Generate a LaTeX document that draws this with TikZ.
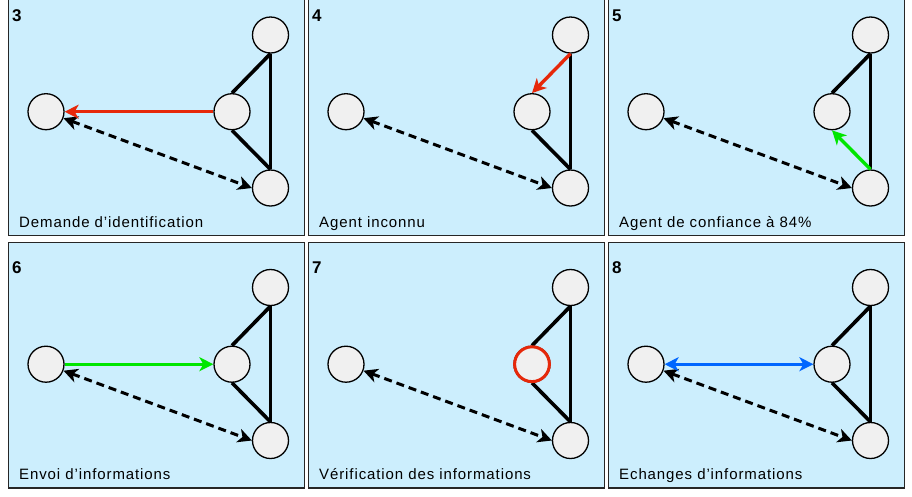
\documentclass[tikz,border=0pt]{standalone}
\usepackage{fontspec}
\setmainfont{Liberation Sans}
\newfontfamily\capfont[LetterSpace=6]{Liberation Sans}
\usetikzlibrary{arrows.meta}

\definecolor{panelblue}{RGB}{204,238,253}
\definecolor{agentgray}{RGB}{240,240,240}
\definecolor{alertred}{RGB}{230,40,10}
\definecolor{okgreen}{RGB}{0,230,0}
\definecolor{infoblue}{RGB}{0,102,255}

\tikzset{
	panel/.style={fill=panelblue,draw=black!85,line width=1.5pt},
	agent/.style={circle,draw=black,fill=agentgray,line width=1.3pt,minimum size=36pt,inner sep=0pt},
	link/.style={line width=3.6pt},
	msg/.style={line width=3.4pt,->},
	probe/.style={line width=3pt,dash pattern=on 8pt off 5pt,<->},
	num/.style={font=\fontsize{17}{20}\selectfont\bfseries,anchor=base west,inner sep=0pt},
	caption/.style={font=\capfont\fontsize{15}{18}\selectfont,anchor=base west,inner sep=0pt}
}

\begin{document}
\begin{tikzpicture}[x=1pt,y=-1pt,>={Stealth[length=14pt,width=14pt,inset=4pt]}]
		\clip (0,0) rectangle (912,496);
		\fill[white] (0,0) rectangle (912,496);

		% one panel per step
		\foreach \n/\x/\y/\txt in {3/8.5/-10/{Demande d’identification},
				4/308.5/-10/{Agent inconnu},
				5/608.5/-10/{Agent de confiance à 84\%},
				6/8.5/242.5/{Envoi d’informations},
				7/308.5/242.5/{Vérification des informations},
				8/608.5/242.5/{Echanges d’informations}} {
				\draw[panel] (\x,\y) rectangle ++(296,245.5);
				\node[num] (num\n) at (\x+3.5,\y+31) {\n};
				\node[caption] (cap\n) at (\x+10.5,\y+237) {\txt};
				\node[agent] (l\n) at (\x+37.5,\y+121.7) {};
				\node[agent] (m\n) at (\x+223.5,\y+121.7) {};
				\node[agent] (t\n) at (\x+262,\y+45) {};
				\node[agent] (b\n) at (\x+262,\y+198) {};
				\draw[probe] (l\n) -- (b\n.west); % dashed exchange
				\draw[link] (t\n.south) -- (b\n.north);
			}

		% Links kept in the triangle
		\foreach \n in {3,5,6,7,8} \draw[link] (t\n.south) -- (m\n.north);
		\foreach \n in {3,4,6,7,8} \draw[link] (m\n.south) -- (b\n.north);

		% Messages
		\draw[msg,alertred] (m3) -- (l3); % request
		\draw[msg,alertred] (t4.south) -- (m4.north); % unknown agent
		\draw[msg,okgreen] (b5.north) -- (m5.south); % trust
		\draw[msg,okgreen] (l6) -- (m6); % send
		\draw[alertred,line width=3pt] (m7.center) circle (17.4); % check
		\draw[msg,infoblue,<->] (l8) -- (m8); % exchange

	\end{tikzpicture}
\end{document}
